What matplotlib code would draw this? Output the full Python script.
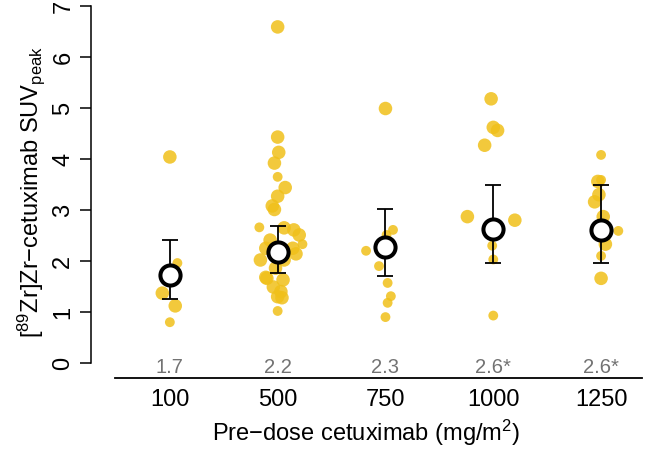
import numpy as np
import matplotlib
matplotlib.use("Agg")
import matplotlib.pyplot as plt

plt.rcParams['font.family'] = ['Liberation Sans', 'DejaVu Sans']
plt.rcParams['mathtext.fontset'] = 'custom'
plt.rcParams['mathtext.rm'] = 'Liberation Sans'
plt.rcParams['mathtext.it'] = 'Liberation Sans'

# data
doses = ["100", "500", "750", "1000", "1250"]
mean_labels = ["1.7", "2.2", "2.3", "2.6*", "2.6*"]
means = [1.73, 2.17, 2.27, 2.62, 2.61]
ci_low = [1.25, 1.76, 1.71, 1.97, 1.96]
ci_high = [2.41, 2.69, 3.02, 3.49, 3.49]

# per-group points: value, horizontal jitter (in group units), size class
suv_100 = [4.04, 1.96, 1.37, 1.12, 0.80]
jit_100 = [0.00, 0.07, -0.07, 0.05, 0.00]
size_100 = [3, 2, 3, 3, 2]

suv_500 = [6.59, 4.43, 4.13, 3.92, 3.65, 3.44, 3.27, 3.08, 3.01, 2.66, 2.65, 2.61,
           2.51, 2.33, 2.41, 2.25, 2.25, 2.14, 2.02, 2.02, 1.66, 1.86, 1.63, 1.49,
           1.40, 1.30, 1.28, 1.02, 1.68]
jit_500 = [0.00, 0.00, 0.01, -0.03, 0.00, 0.07, 0.00, -0.05, -0.03, -0.17, 0.06, 0.15,
           0.20, 0.23, -0.07, -0.11, 0.14, 0.17, -0.16, 0.06, -0.10, -0.02, 0.05, -0.04,
           0.03, 0.00, 0.04, 0.00, -0.11]
size_500 = [3, 3, 3, 3, 2, 3, 3, 3, 3, 2, 3, 3,
            3, 2, 3, 3, 3, 3, 3, 3, 3, 3, 3, 3,
            3, 3, 3, 2, 3]

suv_750 = [4.99, 2.61, 2.51, 2.20, 1.90, 1.57, 1.31, 1.18, 0.90]
jit_750 = [0.00, 0.07, 0.01, -0.18, -0.06, 0.02, 0.05, 0.02, 0.00]
size_750 = [3, 2, 2, 2, 2, 2, 2, 2, 2]

suv_1000 = [5.18, 4.62, 4.56, 4.27, 2.87, 2.80, 2.30, 2.03, 0.93]
jit_1000 = [-0.02, 0.00, 0.04, -0.08, -0.24, 0.20, -0.01, 0.00, 0.00]
size_1000 = [3, 3, 3, 3, 3, 3, 2, 2, 2]

suv_1250 = [4.08, 3.56, 3.59, 3.16, 2.87, 2.59, 2.33, 2.10, 1.66, 3.30]
jit_1250 = [0.00, -0.03, 0.00, -0.06, 0.02, 0.16, 0.04, 0.00, 0.00, -0.02]
size_1250 = [2, 3, 2, 3, 3, 2, 3, 2, 3, 3]

groups = [(suv_100, jit_100, size_100), (suv_500, jit_500, size_500),
          (suv_750, jit_750, size_750), (suv_1000, jit_1000, size_1000),
          (suv_1250, jit_1250, size_1250)]

size_map = {2: 50, 3: 95}
point_color = '#F0C01A'

fig = plt.figure(figsize=(6.56, 4.49), dpi=100)
ax = fig.add_axes([91 / 656, 71 / 449, (642 - 91) / 656, (378 - 6) / 449])

pos = np.arange(1, len(doses) + 1)
for i, (vals, jit, sz) in enumerate(groups):
    x = pos[i] + np.array(jit)
    ax.scatter(x, vals, s=[size_map[k] for k in sz], color=point_color,
               alpha=0.85, edgecolors='none', zorder=2)

means = np.array(means)
yerr = [means - np.array(ci_low), np.array(ci_high) - means]
ax.errorbar(pos, means, yerr=yerr, fmt='none', ecolor='black', elinewidth=1.3,
            capsize=6, capthick=1.3, zorder=3)
ax.plot(pos, means, 'o', ms=14.5, mfc='white', mec='black', mew=2.9,
        linestyle='none', zorder=4)

for p, lab in zip(pos, mean_labels):
    ax.text(p, -0.08, lab, ha='center', va='center', fontsize=14.5,
            color='#737373')

ax.set_xlim(1 - 79 / 108, 5 + 41 / 108)
ax.set_ylim(-15 / 51, 7)
ax.set_xticks(pos)
ax.set_xticklabels(doses, fontsize=17)
ax.tick_params(axis='x', length=0, pad=8)
ax.set_yticks(range(0, 8))
ax.set_yticklabels([str(v) for v in range(0, 8)], fontsize=17, rotation=90,
                   va='center')
ax.tick_params(axis='y', length=8, width=1.1, pad=4)

for s in ['top', 'right']:
    ax.spines[s].set_visible(False)
ax.spines['left'].set_bounds(0, 7)
ax.spines['bottom'].set_bounds(1 - 55 / 108, 5 + 41 / 108)
ax.spines['left'].set_linewidth(1.1)
ax.spines['bottom'].set_linewidth(1.3)

ax.set_ylabel("[$^{89}$Zr]Zr\u2212cetuximab SUV$_{\\mathrm{peak}}$", fontsize=17,
              labelpad=4)
ax.set_xlabel("Pre\u2212dose cetuximab (mg/m$^2$)", fontsize=17, labelpad=5)

fig.savefig("out.png", dpi=100)
